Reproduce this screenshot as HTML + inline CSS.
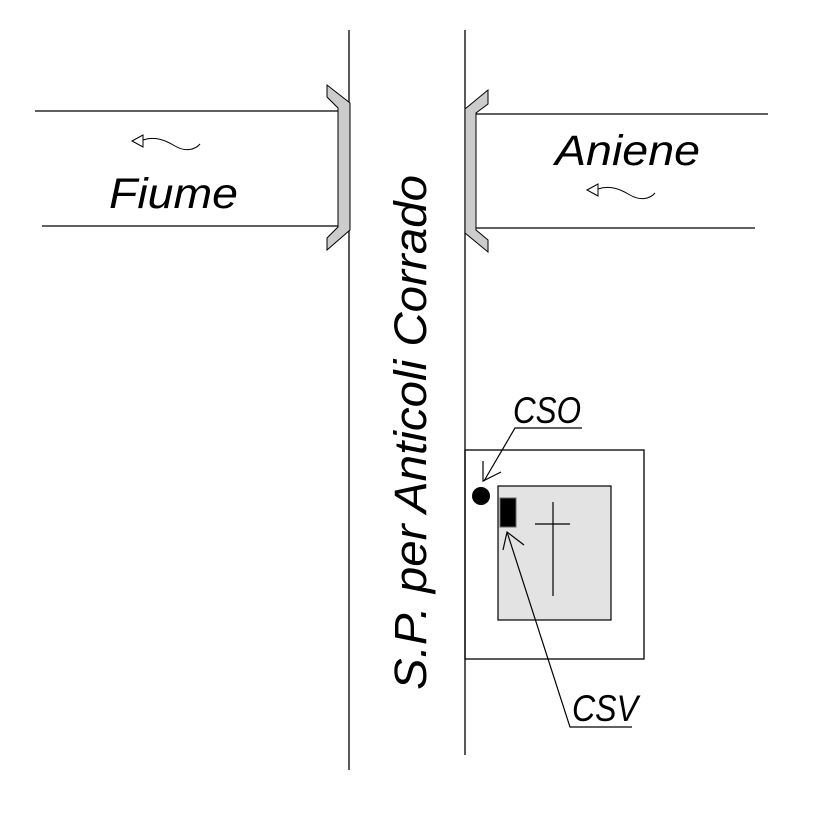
<!DOCTYPE html>
<html><head><style>body{margin:0;background:#fff}svg{display:block}</style></head>
<body>
<svg width="826" height="826" xmlns="http://www.w3.org/2000/svg" font-family="Liberation Sans, sans-serif">
<rect width="826" height="826" fill="#fff"/>
<g stroke="#000" stroke-width="1.3" fill="none">
<line x1="349" y1="30" x2="349" y2="770"/>
<line x1="465" y1="30" x2="465" y2="755"/>
<line x1="35" y1="111" x2="338" y2="111"/>
<line x1="42" y1="226" x2="338" y2="226"/>
<line x1="476" y1="114" x2="768" y2="114"/>
<line x1="476" y1="228" x2="755" y2="228"/>
</g>
<polygon points="327,85 350,103 350,230 327,250 327,238 338,227 338,108 327,97" fill="#ccc" stroke="#000" stroke-width="1"/>
<polygon points="488,90 465,109 465,233 488,252 488,240 476,230 476,113 488,104" fill="#ccc" stroke="#000" stroke-width="1"/>
<g stroke="#000" stroke-width="1" fill="none">
<polygon points="132,141 143,135 143,147"/>
<path d="M143,140 C155,136 165,140 175,146 C185,152 195,150 200,144"/>
<polygon points="587,190 598,184 598,196"/>
<path d="M598,189 C610,185 620,189 630,195 C640,201 650,199 655,193"/>
</g>
<text x="109" y="208" font-size="43" font-style="italic" textLength="129" lengthAdjust="spacingAndGlyphs">Fiume</text>
<text x="555" y="165" font-size="43" font-style="italic" textLength="145" lengthAdjust="spacingAndGlyphs">Aniene</text>
<text transform="translate(426,690) rotate(-90)" font-size="45" font-style="italic" textLength="515" lengthAdjust="spacingAndGlyphs">S.P. per Anticoli Corrado</text>
<rect x="465" y="450" width="179" height="209" fill="none" stroke="#000" stroke-width="1.3"/>
<rect x="498" y="486" width="113" height="134" fill="#e3e3e3" stroke="#000" stroke-width="1.2"/>
<rect x="500" y="498" width="16" height="29" fill="#000" stroke="#666" stroke-width="1"/>
<circle cx="481" cy="496" r="9" fill="#000"/>
<g stroke="#000" stroke-width="1.2" fill="none">
<line x1="553" y1="502" x2="553" y2="596"/>
<line x1="535" y1="524" x2="570" y2="524"/>
<polyline points="582,428 515,428 484,481"/>
<polyline points="483,461 483,481 501,472"/>
<polyline points="632,727 570,727 507,532"/>
<polyline points="503,550 507,532 524,545"/>
</g>
<text x="513" y="423" font-size="37" font-style="italic" textLength="68" lengthAdjust="spacingAndGlyphs">CSO</text>
<text x="572" y="721" font-size="37" font-style="italic" textLength="66" lengthAdjust="spacingAndGlyphs">CSV</text>
</svg>
</body></html>
